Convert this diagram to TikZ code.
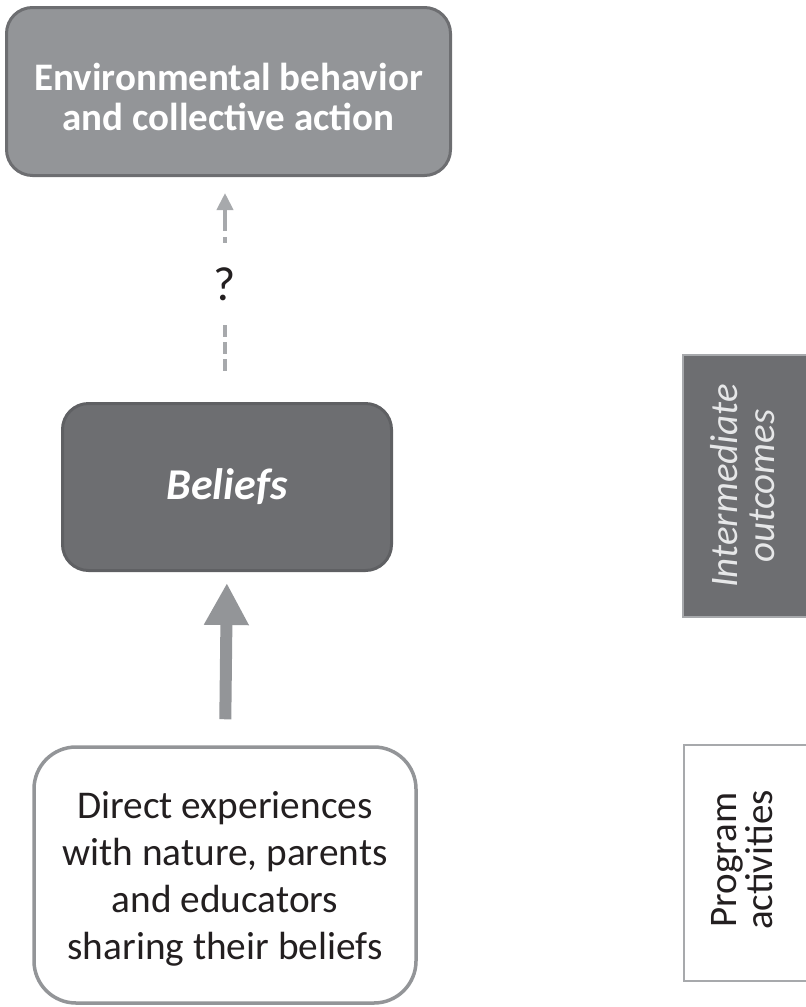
\documentclass[tikz,border=0pt]{standalone}
\usepackage{fontspec}
\setmainfont{Carlito}
\usetikzlibrary{arrows.meta}
\definecolor{midgray}{HTML}{939598}
\definecolor{darkfill}{HTML}{6D6E71}
\definecolor{darkedge}{HTML}{5F6063}
\definecolor{palegray}{HTML}{A7A9AC}
\definecolor{ink}{HTML}{231F20}
\definecolor{softwhite}{HTML}{E6E7E8}
\begin{document}
\begin{tikzpicture}[x=1pt,y=-1pt,
  roundbox/.style={rounded corners=#1, inner sep=0pt, align=center},
  sidebox/.style={draw=palegray, line width=2pt, inner sep=0pt},
  sidetext/.style={rotate=90, align=center, inner sep=0pt}]
\useasboundingbox (0,0) rectangle (806,1007);

% outcome box at the top
\node[roundbox=26pt, draw=darkfill, fill=midgray, line width=3pt,
      minimum width=444pt, minimum height=168pt,
      label={[align=center, text=white, yshift=-5pt,
              font=\bfseries\fontsize{39}{40}\selectfont]center:Environmental behavior\\and collective action}]
  (act) at (228.5,91.5) {};

% beliefs box
\node[roundbox=26pt, draw=darkedge, fill=darkfill, line width=3pt,
      minimum width=329pt, minimum height=167pt, text=white,
      font=\bfseries\itshape\fontsize{44}{44}\selectfont]
  (bel) at (227,487) {Beliefs};

% experiences box
\node[roundbox=42pt, draw=midgray, fill=white, line width=3.5pt,
      minimum width=382pt, minimum height=256pt,
      label={[align=center, text=ink, yshift=-4pt,
              font=\fontsize{39.3}{47}\selectfont]center:Direct experiences\\with nature, parents\\and educators\\sharing their beliefs}]
  (exp) at (225,875) {};

% question mark between beliefs and action
\node[inner sep=0pt, minimum height=82pt, text=ink,
      font=\fontsize{48}{48}\selectfont] (q) at (225,284) {?};

% dashed link with unknown effect
\draw[palegray, line width=4pt, dash pattern=on 22pt off 6pt,
      {Triangle[length=17pt,width=16pt]}-, shorten <=16pt]
  (act.south -| q.north) -- (q.north);
\draw[palegray, line width=4pt, dash pattern=on 12pt off 5pt, shorten >=29pt]
  (q.south) -- (bel.north -| q.south);

% solid arrow from experiences to beliefs
\draw[midgray, line width=12pt, -{Triangle[length=42pt,width=42pt]},
      shorten <=26pt, shorten >=11pt]
  (exp.north) -- (bel.south);

% side labels
\node[sidebox, fill=darkfill, minimum width=150pt, minimum height=262pt,
      anchor=west] (iobox) at (682,486) {};
\node[sidetext, text=softwhite, font=\itshape\fontsize{39}{37}\selectfont]
  (iotext) at (743,486) {Intermediate\\outcomes};

\node[sidebox, fill=white, minimum width=150pt, minimum height=236pt,
      anchor=west] (pabox) at (683,863) {};
\node[sidetext, text=ink, font=\fontsize{39}{36}\selectfont]
  (patext) at (742,860) {Program\\activities};
\end{tikzpicture}
\end{document}
